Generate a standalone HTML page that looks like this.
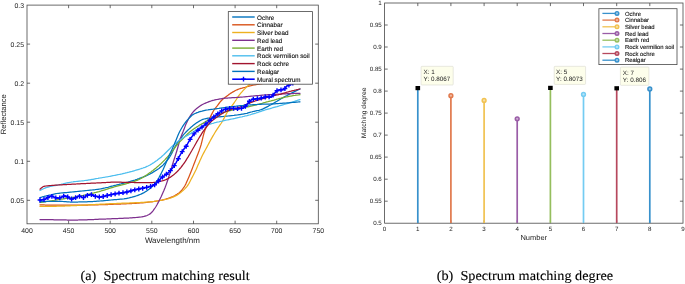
<!DOCTYPE html>
<html><head><meta charset="utf-8"><title>Spectrum matching</title>
<style>html,body{margin:0;padding:0;background:#fff;}body{width:685px;height:284px;overflow:hidden;font-family:"Liberation Sans", sans-serif;}svg{display:block;}</style>
</head><body>
<svg width="685" height="284" viewBox="0 0 685 284" font-family='"Liberation Sans", sans-serif' text-rendering="geometricPrecision">
<rect width="685" height="284" fill="#fff"/>
<g id="chartA">
<g fill="none" stroke-width="1.25" stroke-linejoin="round" stroke-linecap="round">
<path d="M40.0,197.6 L41.0,197.3 L42.0,197.0 L43.0,196.7 L44.0,196.5 L45.0,196.2 L46.0,196.0 L47.0,195.7 L48.0,195.5 L49.0,195.2 L50.0,195.0 L51.0,194.8 L52.0,194.5 L53.0,194.3 L54.0,194.1 L55.0,193.9 L56.0,193.7 L57.0,193.5 L58.0,193.4 L59.0,193.3 L60.0,193.1 L61.0,193.0 L62.0,192.9 L63.0,192.8 L64.0,192.7 L65.0,192.6 L66.0,192.5 L67.0,192.5 L68.0,192.4 L69.0,192.3 L70.0,192.2 L71.0,192.1 L72.0,192.0 L73.0,191.9 L74.0,191.8 L75.0,191.7 L76.0,191.6 L77.0,191.5 L78.0,191.4 L79.0,191.3 L80.0,191.2 L81.0,191.1 L82.0,191.0 L83.0,190.9 L84.0,190.8 L85.0,190.7 L86.0,190.6 L87.0,190.5 L88.0,190.4 L89.0,190.3 L90.0,190.2 L91.0,190.1 L92.0,190.0 L93.0,189.9 L94.0,189.8 L95.0,189.7 L96.0,189.5 L97.0,189.4 L98.0,189.3 L99.0,189.1 L100.0,189.0 L101.0,188.8 L102.0,188.6 L103.0,188.4 L104.0,188.2 L105.0,188.0 L106.0,187.7 L107.0,187.5 L108.0,187.3 L109.0,187.0 L110.0,186.7 L111.0,186.4 L112.0,186.1 L113.0,185.9 L114.0,185.6 L115.0,185.3 L116.0,185.1 L117.0,184.8 L118.0,184.6 L119.0,184.4 L120.0,184.1 L121.0,183.9 L122.0,183.6 L123.0,183.4 L124.0,183.1 L125.0,182.9 L126.0,182.6 L127.0,182.3 L128.0,182.1 L129.0,181.8 L130.0,181.5 L131.0,181.2 L132.0,180.9 L133.0,180.6 L134.0,180.3 L135.0,180.0 L136.0,179.6 L137.0,179.3 L138.0,178.9 L139.0,178.6 L140.0,178.2 L141.0,177.8 L142.0,177.4 L143.0,177.1 L144.0,176.7 L145.0,176.3 L146.0,175.9 L147.0,175.5 L148.0,175.0 L149.0,174.5 L150.0,174.0 L151.0,173.4 L152.0,172.9 L153.0,172.2 L154.0,171.6 L155.0,171.0 L156.0,170.4 L157.0,169.7 L158.0,169.1 L159.0,168.4 L160.0,167.6 L161.0,166.8 L162.0,166.0 L163.0,165.1 L164.0,164.0 L165.0,162.9 L166.0,161.7 L167.0,160.5 L168.0,159.3 L169.0,158.0 L170.0,156.5 L171.0,154.8 L172.0,152.9 L173.0,150.8 L174.0,148.7 L175.0,146.8 L176.0,145.0 L177.0,143.4 L178.0,141.9 L179.0,140.5 L180.0,139.1 L181.0,137.8 L182.0,136.5 L183.0,135.3 L184.0,134.2 L185.0,133.1 L186.0,132.0 L187.0,131.0 L188.0,130.0 L189.0,129.1 L190.0,128.2 L191.0,127.3 L192.0,126.4 L193.0,125.6 L194.0,124.8 L195.0,124.0 L196.0,123.3 L197.0,122.6 L198.0,122.0 L199.0,121.4 L200.0,120.8 L201.0,120.2 L202.0,119.7 L203.0,119.3 L204.0,119.0 L205.0,118.8 L206.0,118.6 L207.0,118.4 L208.0,118.2 L209.0,118.1 L210.0,117.9 L211.0,117.8 L212.0,117.7 L213.0,117.5 L214.0,117.4 L215.0,117.3 L216.0,117.2 L217.0,117.1 L218.0,117.0 L219.0,116.9 L220.0,116.8 L221.0,116.7 L222.0,116.6 L223.0,116.5 L224.0,116.4 L225.0,116.3 L226.0,116.2 L227.0,116.1 L228.0,116.0 L229.0,115.9 L230.0,115.8 L231.0,115.7 L232.0,115.6 L233.0,115.5 L234.0,115.4 L235.0,115.2 L236.0,115.1 L237.0,115.0 L238.0,114.8 L239.0,114.7 L240.0,114.6 L241.0,114.4 L242.0,114.2 L243.0,114.1 L244.0,113.9 L245.0,113.7 L246.0,113.5 L247.0,113.3 L248.0,112.9 L249.0,112.6 L250.0,112.3 L251.0,112.0 L252.0,111.8 L253.0,111.5 L254.0,111.3 L255.0,111.1 L256.0,110.9 L257.0,110.7 L258.0,110.5 L259.0,110.3 L260.0,110.0 L261.0,109.7 L262.0,109.3 L263.0,108.9 L264.0,108.4 L265.0,107.9 L266.0,107.4 L267.0,106.9 L268.0,106.4 L269.0,105.8 L270.0,105.3 L271.0,104.8 L272.0,104.2 L273.0,103.6 L274.0,103.0 L275.0,102.4 L276.0,101.8 L277.0,101.2 L278.0,100.6 L279.0,100.0 L280.0,99.4 L281.0,98.8 L282.0,98.3 L283.0,97.7 L284.0,97.1 L285.0,96.5 L286.0,96.0 L287.0,95.5 L288.0,94.9 L289.0,94.4 L290.0,93.9 L291.0,93.4 L292.0,92.9 L293.0,92.4 L294.0,91.9 L295.0,91.4 L296.0,90.9 L297.0,90.4 L298.0,89.9 L299.0,89.5 L300.0,89.0" stroke="#0072BD"/>
<path d="M40.0,204.8 L41.0,204.8 L42.0,204.9 L43.0,204.9 L44.0,204.9 L45.0,205.0 L46.0,205.0 L47.0,205.0 L48.0,205.1 L49.0,205.1 L50.0,205.1 L51.0,205.1 L52.0,205.1 L53.0,205.2 L54.0,205.2 L55.0,205.2 L56.0,205.2 L57.0,205.2 L58.0,205.2 L59.0,205.2 L60.0,205.2 L61.0,205.2 L62.0,205.2 L63.0,205.2 L64.0,205.2 L65.0,205.2 L66.0,205.2 L67.0,205.2 L68.0,205.2 L69.0,205.2 L70.0,205.2 L71.0,205.2 L72.0,205.2 L73.0,205.2 L74.0,205.2 L75.0,205.2 L76.0,205.2 L77.0,205.2 L78.0,205.1 L79.0,205.1 L80.0,205.1 L81.0,205.1 L82.0,205.1 L83.0,205.1 L84.0,205.0 L85.0,205.0 L86.0,205.0 L87.0,205.0 L88.0,205.0 L89.0,204.9 L90.0,204.9 L91.0,204.9 L92.0,204.9 L93.0,204.9 L94.0,204.8 L95.0,204.8 L96.0,204.8 L97.0,204.8 L98.0,204.8 L99.0,204.7 L100.0,204.7 L101.0,204.7 L102.0,204.6 L103.0,204.6 L104.0,204.6 L105.0,204.6 L106.0,204.5 L107.0,204.5 L108.0,204.5 L109.0,204.4 L110.0,204.4 L111.0,204.4 L112.0,204.3 L113.0,204.3 L114.0,204.2 L115.0,204.2 L116.0,204.2 L117.0,204.1 L118.0,204.1 L119.0,204.0 L120.0,204.0 L121.0,204.0 L122.0,203.9 L123.0,203.9 L124.0,203.8 L125.0,203.8 L126.0,203.8 L127.0,203.7 L128.0,203.7 L129.0,203.6 L130.0,203.6 L131.0,203.5 L132.0,203.5 L133.0,203.4 L134.0,203.4 L135.0,203.3 L136.0,203.3 L137.0,203.2 L138.0,203.1 L139.0,203.1 L140.0,203.0 L141.0,202.9 L142.0,202.8 L143.0,202.8 L144.0,202.7 L145.0,202.6 L146.0,202.5 L147.0,202.3 L148.0,202.2 L149.0,202.1 L150.0,202.0 L151.0,201.9 L152.0,201.8 L153.0,201.6 L154.0,201.5 L155.0,201.3 L156.0,201.2 L157.0,201.0 L158.0,200.9 L159.0,200.7 L160.0,200.5 L161.0,200.3 L162.0,200.1 L163.0,199.8 L164.0,199.6 L165.0,199.3 L166.0,199.0 L167.0,198.7 L168.0,198.4 L169.0,198.0 L170.0,197.7 L171.0,197.3 L172.0,196.9 L173.0,196.5 L174.0,196.0 L175.0,195.5 L176.0,194.9 L177.0,194.3 L178.0,193.6 L179.0,192.9 L180.0,192.0 L181.0,191.0 L182.0,189.9 L183.0,188.5 L184.0,187.1 L185.0,185.5 L186.0,183.6 L187.0,181.3 L188.0,179.0 L189.0,176.7 L190.0,174.3 L191.0,171.8 L192.0,169.2 L193.0,166.6 L194.0,164.0 L195.0,161.5 L196.0,158.9 L197.0,156.3 L198.0,153.7 L199.0,151.0 L200.0,148.1 L201.0,145.0 L202.0,141.1 L203.0,136.8 L204.0,133.0 L205.0,130.1 L206.0,127.6 L207.0,125.2 L208.0,122.8 L209.0,120.2 L210.0,117.8 L211.0,115.6 L212.0,113.6 L213.0,111.7 L214.0,110.0 L215.0,108.6 L216.0,107.3 L217.0,106.1 L218.0,104.8 L219.0,103.5 L220.0,102.2 L221.0,101.0 L222.0,100.0 L223.0,99.1 L224.0,98.3 L225.0,97.5 L226.0,96.7 L227.0,95.9 L228.0,95.2 L229.0,94.4 L230.0,93.8 L231.0,93.1 L232.0,92.5 L233.0,91.9 L234.0,91.4 L235.0,90.8 L236.0,90.3 L237.0,89.8 L238.0,89.4 L239.0,89.0 L240.0,88.7 L241.0,88.3 L242.0,88.1 L243.0,87.8 L244.0,87.5 L245.0,87.3 L246.0,87.0 L247.0,86.7 L248.0,86.5 L249.0,86.2 L250.0,85.9 L251.0,85.7 L252.0,85.4 L253.0,85.2 L254.0,85.0 L255.0,84.8 L256.0,84.7 L257.0,84.5 L258.0,84.3 L259.0,84.2 L260.0,84.0 L261.0,83.8 L262.0,83.6 L263.0,83.5 L264.0,83.3 L265.0,83.1 L266.0,82.9 L267.0,82.7 L268.0,82.6 L269.0,82.4 L270.0,82.2 L271.0,82.0 L272.0,81.8 L273.0,81.6 L274.0,81.5 L275.0,81.3 L276.0,81.1 L277.0,81.0 L278.0,80.8 L279.0,80.6 L280.0,80.5 L281.0,80.4 L282.0,80.2 L283.0,80.1 L284.0,79.9 L285.0,79.8 L286.0,79.7 L287.0,79.5 L288.0,79.4 L289.0,79.3 L290.0,79.1 L291.0,79.0 L292.0,78.9 L293.0,78.8 L294.0,78.7 L295.0,78.5 L296.0,78.4 L297.0,78.3 L298.0,78.2 L299.0,78.1 L300.0,78.0" stroke="#D95319"/>
<path d="M40.0,206.4 L41.0,206.4 L42.0,206.4 L43.0,206.4 L44.0,206.4 L45.0,206.4 L46.0,206.4 L47.0,206.4 L48.0,206.4 L49.0,206.4 L50.0,206.4 L51.0,206.4 L52.0,206.4 L53.0,206.4 L54.0,206.3 L55.0,206.3 L56.0,206.3 L57.0,206.2 L58.0,206.2 L59.0,206.2 L60.0,206.1 L61.0,206.1 L62.0,206.1 L63.0,206.0 L64.0,206.0 L65.0,206.0 L66.0,205.9 L67.0,205.9 L68.0,205.9 L69.0,205.8 L70.0,205.8 L71.0,205.7 L72.0,205.7 L73.0,205.7 L74.0,205.6 L75.0,205.6 L76.0,205.5 L77.0,205.5 L78.0,205.4 L79.0,205.4 L80.0,205.3 L81.0,205.3 L82.0,205.2 L83.0,205.2 L84.0,205.1 L85.0,205.1 L86.0,205.0 L87.0,204.9 L88.0,204.9 L89.0,204.8 L90.0,204.8 L91.0,204.7 L92.0,204.7 L93.0,204.6 L94.0,204.5 L95.0,204.5 L96.0,204.4 L97.0,204.4 L98.0,204.3 L99.0,204.3 L100.0,204.2 L101.0,204.1 L102.0,204.1 L103.0,204.1 L104.0,204.0 L105.0,204.0 L106.0,203.9 L107.0,203.9 L108.0,203.8 L109.0,203.8 L110.0,203.7 L111.0,203.7 L112.0,203.6 L113.0,203.6 L114.0,203.6 L115.0,203.5 L116.0,203.5 L117.0,203.4 L118.0,203.4 L119.0,203.3 L120.0,203.3 L121.0,203.3 L122.0,203.2 L123.0,203.2 L124.0,203.1 L125.0,203.1 L126.0,203.1 L127.0,203.0 L128.0,203.0 L129.0,203.0 L130.0,202.9 L131.0,202.9 L132.0,202.9 L133.0,202.8 L134.0,202.8 L135.0,202.7 L136.0,202.7 L137.0,202.6 L138.0,202.6 L139.0,202.6 L140.0,202.5 L141.0,202.4 L142.0,202.4 L143.0,202.3 L144.0,202.3 L145.0,202.2 L146.0,202.1 L147.0,202.1 L148.0,202.0 L149.0,201.9 L150.0,201.8 L151.0,201.7 L152.0,201.6 L153.0,201.5 L154.0,201.4 L155.0,201.2 L156.0,201.1 L157.0,201.0 L158.0,200.8 L159.0,200.7 L160.0,200.5 L161.0,200.3 L162.0,200.1 L163.0,200.0 L164.0,199.7 L165.0,199.5 L166.0,199.3 L167.0,199.0 L168.0,198.8 L169.0,198.5 L170.0,198.2 L171.0,197.9 L172.0,197.5 L173.0,197.1 L174.0,196.6 L175.0,196.2 L176.0,195.6 L177.0,195.1 L178.0,194.5 L179.0,193.8 L180.0,193.1 L181.0,192.3 L182.0,191.4 L183.0,190.5 L184.0,189.6 L185.0,188.6 L186.0,187.5 L187.0,186.3 L188.0,185.0 L189.0,183.4 L190.0,181.5 L191.0,179.5 L192.0,177.6 L193.0,175.7 L194.0,173.8 L195.0,171.8 L196.0,169.7 L197.0,167.4 L198.0,165.1 L199.0,162.9 L200.0,160.6 L201.0,158.4 L202.0,156.3 L203.0,154.3 L204.0,152.4 L205.0,150.5 L206.0,148.7 L207.0,146.9 L208.0,145.0 L209.0,143.1 L210.0,141.2 L211.0,139.4 L212.0,137.6 L213.0,135.9 L214.0,134.2 L215.0,132.5 L216.0,130.9 L217.0,129.3 L218.0,127.8 L219.0,126.3 L220.0,124.9 L221.0,123.5 L222.0,122.0 L223.0,120.3 L224.0,118.4 L225.0,116.4 L226.0,114.5 L227.0,112.6 L228.0,110.6 L229.0,109.0 L230.0,107.7 L231.0,106.7 L232.0,105.6 L233.0,104.3 L234.0,103.0 L235.0,101.5 L236.0,100.0 L237.0,98.4 L238.0,96.9 L239.0,95.4 L240.0,94.1 L241.0,92.9 L242.0,91.8 L243.0,90.7 L244.0,89.6 L245.0,88.6 L246.0,87.6 L247.0,86.6 L248.0,85.7 L249.0,84.8 L250.0,84.0 L251.0,83.2 L252.0,82.5 L253.0,81.8 L254.0,81.1 L255.0,80.5 L256.0,79.9 L257.0,79.3 L258.0,78.8 L259.0,78.3 L260.0,77.8 L261.0,77.4 L262.0,77.0 L263.0,76.7 L264.0,76.4 L265.0,76.1 L266.0,75.8 L267.0,75.5 L268.0,75.3 L269.0,75.0 L270.0,74.8 L271.0,74.6 L272.0,74.4 L273.0,74.2 L274.0,74.0 L275.0,73.8 L276.0,73.6 L277.0,73.4 L278.0,73.3 L279.0,73.1 L280.0,73.0 L281.0,72.9 L282.0,72.7 L283.0,72.6 L284.0,72.5 L285.0,72.3 L286.0,72.2 L287.0,72.1 L288.0,72.0 L289.0,71.9 L290.0,71.7 L291.0,71.6 L292.0,71.5 L293.0,71.4 L294.0,71.4 L295.0,71.3 L296.0,71.2 L297.0,71.1 L298.0,71.1 L299.0,71.0 L300.0,71.0" stroke="#EDB120"/>
<path d="M40.0,219.6 L41.0,219.6 L42.0,219.6 L43.0,219.6 L44.0,219.6 L45.0,219.6 L46.0,219.7 L47.0,219.7 L48.0,219.7 L49.0,219.7 L50.0,219.7 L51.0,219.7 L52.0,219.7 L53.0,219.7 L54.0,219.8 L55.0,219.8 L56.0,219.8 L57.0,219.8 L58.0,219.8 L59.0,219.8 L60.0,219.8 L61.0,219.8 L62.0,219.9 L63.0,219.9 L64.0,219.9 L65.0,219.9 L66.0,219.9 L67.0,220.0 L68.0,220.0 L69.0,220.0 L70.0,220.0 L71.0,220.0 L72.0,220.0 L73.0,220.0 L74.0,220.0 L75.0,220.0 L76.0,220.0 L77.0,220.0 L78.0,220.0 L79.0,219.9 L80.0,219.9 L81.0,219.9 L82.0,219.9 L83.0,219.9 L84.0,219.8 L85.0,219.8 L86.0,219.8 L87.0,219.8 L88.0,219.7 L89.0,219.7 L90.0,219.7 L91.0,219.6 L92.0,219.6 L93.0,219.5 L94.0,219.5 L95.0,219.4 L96.0,219.4 L97.0,219.3 L98.0,219.3 L99.0,219.2 L100.0,219.2 L101.0,219.2 L102.0,219.1 L103.0,219.1 L104.0,219.0 L105.0,219.0 L106.0,219.0 L107.0,218.9 L108.0,218.9 L109.0,218.9 L110.0,218.8 L111.0,218.8 L112.0,218.7 L113.0,218.7 L114.0,218.7 L115.0,218.6 L116.0,218.6 L117.0,218.5 L118.0,218.5 L119.0,218.4 L120.0,218.4 L121.0,218.4 L122.0,218.3 L123.0,218.3 L124.0,218.2 L125.0,218.2 L126.0,218.1 L127.0,218.1 L128.0,218.0 L129.0,218.0 L130.0,217.9 L131.0,217.8 L132.0,217.8 L133.0,217.7 L134.0,217.6 L135.0,217.6 L136.0,217.5 L137.0,217.4 L138.0,217.3 L139.0,217.2 L140.0,217.1 L141.0,217.0 L142.0,216.8 L143.0,216.6 L144.0,216.4 L145.0,216.1 L146.0,215.8 L147.0,215.5 L148.0,215.0 L149.0,214.5 L150.0,213.9 L151.0,213.1 L152.0,212.0 L153.0,210.8 L154.0,209.4 L155.0,208.0 L156.0,206.5 L157.0,204.8 L158.0,202.9 L159.0,201.0 L160.0,199.0 L161.0,197.0 L162.0,194.8 L163.0,192.6 L164.0,190.3 L165.0,187.8 L166.0,185.1 L167.0,182.3 L168.0,179.3 L169.0,176.1 L170.0,173.0 L171.0,169.7 L172.0,166.3 L173.0,163.0 L174.0,159.8 L175.0,156.7 L176.0,153.5 L177.0,150.2 L178.0,146.8 L179.0,143.1 L180.0,139.5 L181.0,136.7 L182.0,134.2 L183.0,131.8 L184.0,129.2 L185.0,126.6 L186.0,124.1 L187.0,121.9 L188.0,119.9 L189.0,118.0 L190.0,116.3 L191.0,114.8 L192.0,113.3 L193.0,112.1 L194.0,111.0 L195.0,110.0 L196.0,109.1 L197.0,108.3 L198.0,107.5 L199.0,106.7 L200.0,106.0 L201.0,105.4 L202.0,104.8 L203.0,104.3 L204.0,103.8 L205.0,103.3 L206.0,102.9 L207.0,102.5 L208.0,102.1 L209.0,101.7 L210.0,101.3 L211.0,101.0 L212.0,100.7 L213.0,100.4 L214.0,100.2 L215.0,99.9 L216.0,99.7 L217.0,99.5 L218.0,99.3 L219.0,99.1 L220.0,98.9 L221.0,98.8 L222.0,98.6 L223.0,98.4 L224.0,98.3 L225.0,98.2 L226.0,98.1 L227.0,98.0 L228.0,98.0 L229.0,97.9 L230.0,97.8 L231.0,97.8 L232.0,97.7 L233.0,97.7 L234.0,97.6 L235.0,97.6 L236.0,97.5 L237.0,97.4 L238.0,97.4 L239.0,97.3 L240.0,97.2 L241.0,97.1 L242.0,97.1 L243.0,97.0 L244.0,96.9 L245.0,96.8 L246.0,96.7 L247.0,96.6 L248.0,96.5 L249.0,96.4 L250.0,96.3 L251.0,96.2 L252.0,96.1 L253.0,96.0 L254.0,95.9 L255.0,95.8 L256.0,95.7 L257.0,95.6 L258.0,95.5 L259.0,95.5 L260.0,95.4 L261.0,95.3 L262.0,95.2 L263.0,95.1 L264.0,95.0 L265.0,94.9 L266.0,94.9 L267.0,94.8 L268.0,94.7 L269.0,94.7 L270.0,94.6 L271.0,94.5 L272.0,94.5 L273.0,94.4 L274.0,94.4 L275.0,94.3 L276.0,94.3 L277.0,94.2 L278.0,94.2 L279.0,94.1 L280.0,94.0 L281.0,94.0 L282.0,94.0 L283.0,93.9 L284.0,93.9 L285.0,93.8 L286.0,93.8 L287.0,93.7 L288.0,93.7 L289.0,93.6 L290.0,93.6 L291.0,93.6 L292.0,93.5 L293.0,93.5 L294.0,93.5 L295.0,93.4 L296.0,93.4 L297.0,93.4 L298.0,93.3 L299.0,93.3 L300.0,93.3" stroke="#7E2F8E"/>
<path d="M40.0,202.5 L41.0,202.4 L42.0,202.2 L43.0,202.1 L44.0,201.9 L45.0,201.8 L46.0,201.6 L47.0,201.5 L48.0,201.3 L49.0,201.2 L50.0,201.0 L51.0,200.8 L52.0,200.7 L53.0,200.5 L54.0,200.4 L55.0,200.2 L56.0,200.0 L57.0,199.9 L58.0,199.7 L59.0,199.5 L60.0,199.4 L61.0,199.2 L62.0,199.1 L63.0,199.0 L64.0,198.8 L65.0,198.7 L66.0,198.5 L67.0,198.4 L68.0,198.2 L69.0,198.1 L70.0,197.9 L71.0,197.8 L72.0,197.6 L73.0,197.4 L74.0,197.2 L75.0,197.1 L76.0,196.9 L77.0,196.7 L78.0,196.5 L79.0,196.3 L80.0,196.1 L81.0,195.9 L82.0,195.7 L83.0,195.5 L84.0,195.2 L85.0,195.0 L86.0,194.8 L87.0,194.6 L88.0,194.3 L89.0,194.1 L90.0,193.9 L91.0,193.6 L92.0,193.4 L93.0,193.1 L94.0,192.9 L95.0,192.6 L96.0,192.4 L97.0,192.1 L98.0,191.8 L99.0,191.6 L100.0,191.3 L101.0,191.0 L102.0,190.7 L103.0,190.4 L104.0,190.1 L105.0,189.8 L106.0,189.5 L107.0,189.2 L108.0,188.8 L109.0,188.5 L110.0,188.2 L111.0,187.9 L112.0,187.6 L113.0,187.3 L114.0,187.0 L115.0,186.7 L116.0,186.4 L117.0,186.2 L118.0,185.9 L119.0,185.6 L120.0,185.4 L121.0,185.1 L122.0,184.9 L123.0,184.6 L124.0,184.3 L125.0,184.1 L126.0,183.8 L127.0,183.5 L128.0,183.3 L129.0,183.0 L130.0,182.7 L131.0,182.4 L132.0,182.1 L133.0,181.8 L134.0,181.5 L135.0,181.1 L136.0,180.7 L137.0,180.3 L138.0,179.9 L139.0,179.5 L140.0,179.0 L141.0,178.5 L142.0,177.9 L143.0,177.3 L144.0,176.7 L145.0,176.0 L146.0,175.4 L147.0,174.7 L148.0,174.0 L149.0,173.3 L150.0,172.6 L151.0,171.9 L152.0,171.1 L153.0,170.4 L154.0,169.6 L155.0,168.8 L156.0,168.0 L157.0,167.1 L158.0,166.3 L159.0,165.4 L160.0,164.5 L161.0,163.6 L162.0,162.6 L163.0,161.6 L164.0,160.6 L165.0,159.6 L166.0,158.5 L167.0,157.4 L168.0,156.3 L169.0,155.2 L170.0,154.0 L171.0,152.8 L172.0,151.5 L173.0,150.2 L174.0,148.8 L175.0,147.5 L176.0,146.2 L177.0,145.0 L178.0,143.8 L179.0,142.7 L180.0,141.6 L181.0,140.6 L182.0,139.5 L183.0,138.5 L184.0,137.5 L185.0,136.5 L186.0,135.5 L187.0,134.5 L188.0,133.5 L189.0,132.6 L190.0,131.8 L191.0,131.0 L192.0,130.2 L193.0,129.5 L194.0,128.8 L195.0,128.1 L196.0,127.5 L197.0,126.8 L198.0,126.2 L199.0,125.5 L200.0,124.9 L201.0,124.4 L202.0,123.8 L203.0,123.2 L204.0,122.6 L205.0,122.0 L206.0,121.4 L207.0,120.8 L208.0,120.1 L209.0,119.5 L210.0,119.0 L211.0,118.4 L212.0,117.9 L213.0,117.4 L214.0,116.9 L215.0,116.4 L216.0,115.9 L217.0,115.5 L218.0,115.0 L219.0,114.5 L220.0,114.1 L221.0,113.6 L222.0,113.2 L223.0,112.7 L224.0,112.3 L225.0,112.0 L226.0,111.7 L227.0,111.4 L228.0,111.2 L229.0,110.9 L230.0,110.7 L231.0,110.4 L232.0,110.2 L233.0,110.0 L234.0,109.7 L235.0,109.5 L236.0,109.3 L237.0,109.0 L238.0,108.8 L239.0,108.6 L240.0,108.4 L241.0,108.2 L242.0,108.0 L243.0,107.8 L244.0,107.6 L245.0,107.4 L246.0,107.2 L247.0,107.0 L248.0,106.8 L249.0,106.6 L250.0,106.4 L251.0,106.2 L252.0,106.0 L253.0,105.7 L254.0,105.4 L255.0,105.2 L256.0,104.9 L257.0,104.6 L258.0,104.3 L259.0,104.1 L260.0,103.8 L261.0,103.5 L262.0,103.3 L263.0,103.0 L264.0,102.7 L265.0,102.5 L266.0,102.2 L267.0,101.9 L268.0,101.7 L269.0,101.4 L270.0,101.1 L271.0,100.9 L272.0,100.6 L273.0,100.3 L274.0,100.1 L275.0,99.8 L276.0,99.5 L277.0,99.2 L278.0,99.0 L279.0,98.7 L280.0,98.4 L281.0,98.2 L282.0,97.9 L283.0,97.7 L284.0,97.4 L285.0,97.2 L286.0,97.0 L287.0,96.8 L288.0,96.6 L289.0,96.4 L290.0,96.2 L291.0,96.1 L292.0,95.9 L293.0,95.7 L294.0,95.5 L295.0,95.4 L296.0,95.2 L297.0,95.1 L298.0,95.0 L299.0,94.8 L300.0,94.7" stroke="#77AC30"/>
<path d="M40.0,190.5 L41.0,190.0 L42.0,189.5 L43.0,189.0 L44.0,188.5 L45.0,188.1 L46.0,187.7 L47.0,187.4 L48.0,187.1 L49.0,186.8 L50.0,186.5 L51.0,186.3 L52.0,186.1 L53.0,185.9 L54.0,185.7 L55.0,185.6 L56.0,185.4 L57.0,185.2 L58.0,185.0 L59.0,184.8 L60.0,184.5 L61.0,184.3 L62.0,184.0 L63.0,183.8 L64.0,183.5 L65.0,183.3 L66.0,183.1 L67.0,182.9 L68.0,182.7 L69.0,182.5 L70.0,182.3 L71.0,182.2 L72.0,182.0 L73.0,181.9 L74.0,181.7 L75.0,181.6 L76.0,181.5 L77.0,181.4 L78.0,181.3 L79.0,181.2 L80.0,181.1 L81.0,181.0 L82.0,180.9 L83.0,180.8 L84.0,180.7 L85.0,180.5 L86.0,180.4 L87.0,180.3 L88.0,180.1 L89.0,179.9 L90.0,179.8 L91.0,179.6 L92.0,179.4 L93.0,179.3 L94.0,179.1 L95.0,178.9 L96.0,178.7 L97.0,178.5 L98.0,178.4 L99.0,178.2 L100.0,178.0 L101.0,177.8 L102.0,177.7 L103.0,177.5 L104.0,177.3 L105.0,177.2 L106.0,177.0 L107.0,176.8 L108.0,176.7 L109.0,176.5 L110.0,176.3 L111.0,176.1 L112.0,175.9 L113.0,175.7 L114.0,175.5 L115.0,175.3 L116.0,175.1 L117.0,174.9 L118.0,174.7 L119.0,174.5 L120.0,174.3 L121.0,174.1 L122.0,173.9 L123.0,173.6 L124.0,173.4 L125.0,173.2 L126.0,172.9 L127.0,172.7 L128.0,172.4 L129.0,172.2 L130.0,171.9 L131.0,171.6 L132.0,171.4 L133.0,171.1 L134.0,170.8 L135.0,170.5 L136.0,170.2 L137.0,169.9 L138.0,169.6 L139.0,169.3 L140.0,169.0 L141.0,168.7 L142.0,168.3 L143.0,168.0 L144.0,167.6 L145.0,167.3 L146.0,166.9 L147.0,166.4 L148.0,166.0 L149.0,165.5 L150.0,165.0 L151.0,164.4 L152.0,163.8 L153.0,163.1 L154.0,162.5 L155.0,161.8 L156.0,161.1 L157.0,160.4 L158.0,159.6 L159.0,158.8 L160.0,158.0 L161.0,157.2 L162.0,156.3 L163.0,155.4 L164.0,154.5 L165.0,153.5 L166.0,152.5 L167.0,151.5 L168.0,150.5 L169.0,149.5 L170.0,148.5 L171.0,147.4 L172.0,146.4 L173.0,145.5 L174.0,144.6 L175.0,143.7 L176.0,142.8 L177.0,142.0 L178.0,141.3 L179.0,140.5 L180.0,139.8 L181.0,139.1 L182.0,138.5 L183.0,137.9 L184.0,137.3 L185.0,136.8 L186.0,136.2 L187.0,135.6 L188.0,135.1 L189.0,134.5 L190.0,133.9 L191.0,133.3 L192.0,132.6 L193.0,132.0 L194.0,131.3 L195.0,130.7 L196.0,130.1 L197.0,129.5 L198.0,128.9 L199.0,128.4 L200.0,127.9 L201.0,127.3 L202.0,126.9 L203.0,126.4 L204.0,126.0 L205.0,125.6 L206.0,125.3 L207.0,125.0 L208.0,124.7 L209.0,124.4 L210.0,124.1 L211.0,123.8 L212.0,123.5 L213.0,123.3 L214.0,123.0 L215.0,122.7 L216.0,122.5 L217.0,122.2 L218.0,122.0 L219.0,121.8 L220.0,121.5 L221.0,121.3 L222.0,121.1 L223.0,120.8 L224.0,120.6 L225.0,120.4 L226.0,120.2 L227.0,120.0 L228.0,119.8 L229.0,119.6 L230.0,119.4 L231.0,119.2 L232.0,119.0 L233.0,118.8 L234.0,118.6 L235.0,118.4 L236.0,118.1 L237.0,117.9 L238.0,117.7 L239.0,117.5 L240.0,117.2 L241.0,117.0 L242.0,116.8 L243.0,116.5 L244.0,116.3 L245.0,116.0 L246.0,115.8 L247.0,115.6 L248.0,115.3 L249.0,115.0 L250.0,114.8 L251.0,114.5 L252.0,114.2 L253.0,113.9 L254.0,113.6 L255.0,113.3 L256.0,113.0 L257.0,112.6 L258.0,112.3 L259.0,111.9 L260.0,111.6 L261.0,111.3 L262.0,110.9 L263.0,110.6 L264.0,110.3 L265.0,110.0 L266.0,109.7 L267.0,109.4 L268.0,109.1 L269.0,108.8 L270.0,108.6 L271.0,108.3 L272.0,108.0 L273.0,107.7 L274.0,107.4 L275.0,107.1 L276.0,106.8 L277.0,106.6 L278.0,106.3 L279.0,106.0 L280.0,105.7 L281.0,105.4 L282.0,105.1 L283.0,104.8 L284.0,104.5 L285.0,104.2 L286.0,103.9 L287.0,103.6 L288.0,103.3 L289.0,103.0 L290.0,102.7 L291.0,102.4 L292.0,102.1 L293.0,101.8 L294.0,101.5 L295.0,101.2 L296.0,100.8 L297.0,100.5 L298.0,100.2 L299.0,99.9 L300.0,99.6" stroke="#4DBEEE"/>
<path d="M40.0,189.2 L41.0,188.3 L42.0,187.5 L43.0,186.8 L44.0,186.3 L45.0,186.1 L46.0,186.0 L47.0,185.9 L48.0,185.8 L49.0,185.7 L50.0,185.6 L51.0,185.5 L52.0,185.4 L53.0,185.3 L54.0,185.3 L55.0,185.2 L56.0,185.1 L57.0,185.1 L58.0,185.0 L59.0,184.9 L60.0,184.9 L61.0,184.8 L62.0,184.8 L63.0,184.7 L64.0,184.6 L65.0,184.6 L66.0,184.5 L67.0,184.5 L68.0,184.4 L69.0,184.4 L70.0,184.3 L71.0,184.3 L72.0,184.2 L73.0,184.1 L74.0,184.1 L75.0,184.0 L76.0,184.0 L77.0,183.9 L78.0,183.9 L79.0,183.8 L80.0,183.8 L81.0,183.7 L82.0,183.7 L83.0,183.6 L84.0,183.6 L85.0,183.5 L86.0,183.5 L87.0,183.4 L88.0,183.4 L89.0,183.3 L90.0,183.3 L91.0,183.2 L92.0,183.2 L93.0,183.1 L94.0,183.1 L95.0,183.0 L96.0,183.0 L97.0,182.9 L98.0,182.9 L99.0,182.8 L100.0,182.8 L101.0,182.8 L102.0,182.7 L103.0,182.6 L104.0,182.6 L105.0,182.5 L106.0,182.5 L107.0,182.4 L108.0,182.4 L109.0,182.3 L110.0,182.3 L111.0,182.2 L112.0,182.2 L113.0,182.2 L114.0,182.2 L115.0,182.2 L116.0,182.2 L117.0,182.2 L118.0,182.2 L119.0,182.2 L120.0,182.2 L121.0,182.2 L122.0,182.3 L123.0,182.3 L124.0,182.3 L125.0,182.3 L126.0,182.3 L127.0,182.3 L128.0,182.3 L129.0,182.3 L130.0,182.4 L131.0,182.4 L132.0,182.4 L133.0,182.4 L134.0,182.5 L135.0,182.5 L136.0,182.5 L137.0,182.5 L138.0,182.6 L139.0,182.6 L140.0,182.6 L141.0,182.6 L142.0,182.6 L143.0,182.6 L144.0,182.7 L145.0,182.7 L146.0,182.7 L147.0,182.7 L148.0,182.7 L149.0,182.7 L150.0,182.7 L151.0,182.6 L152.0,182.5 L153.0,182.5 L154.0,182.4 L155.0,182.3 L156.0,182.2 L157.0,182.1 L158.0,181.9 L159.0,181.7 L160.0,181.5 L161.0,181.2 L162.0,181.0 L163.0,180.7 L164.0,180.4 L165.0,180.0 L166.0,179.6 L167.0,179.1 L168.0,178.6 L169.0,178.0 L170.0,177.4 L171.0,176.7 L172.0,176.0 L173.0,175.3 L174.0,174.5 L175.0,173.6 L176.0,172.7 L177.0,171.8 L178.0,170.8 L179.0,169.7 L180.0,168.5 L181.0,167.3 L182.0,166.0 L183.0,164.7 L184.0,163.3 L185.0,161.9 L186.0,160.3 L187.0,158.7 L188.0,157.1 L189.0,155.4 L190.0,153.7 L191.0,152.0 L192.0,150.3 L193.0,148.5 L194.0,146.8 L195.0,145.0 L196.0,143.2 L197.0,141.4 L198.0,139.7 L199.0,138.0 L200.0,136.4 L201.0,134.8 L202.0,133.2 L203.0,131.7 L204.0,130.3 L205.0,128.9 L206.0,127.6 L207.0,126.3 L208.0,125.1 L209.0,123.9 L210.0,122.8 L211.0,121.8 L212.0,120.9 L213.0,120.0 L214.0,119.3 L215.0,118.5 L216.0,117.8 L217.0,117.1 L218.0,116.4 L219.0,115.7 L220.0,115.0 L221.0,114.3 L222.0,113.7 L223.0,113.1 L224.0,112.5 L225.0,112.0 L226.0,111.5 L227.0,111.1 L228.0,110.7 L229.0,110.3 L230.0,109.9 L231.0,109.5 L232.0,109.2 L233.0,108.9 L234.0,108.6 L235.0,108.4 L236.0,108.1 L237.0,107.9 L238.0,107.6 L239.0,107.3 L240.0,107.0 L241.0,106.6 L242.0,106.2 L243.0,105.8 L244.0,105.3 L245.0,104.9 L246.0,104.5 L247.0,104.1 L248.0,103.7 L249.0,103.3 L250.0,102.9 L251.0,102.5 L252.0,102.1 L253.0,101.7 L254.0,101.4 L255.0,101.0 L256.0,100.7 L257.0,100.4 L258.0,100.1 L259.0,99.8 L260.0,99.5 L261.0,99.2 L262.0,98.9 L263.0,98.6 L264.0,98.3 L265.0,98.1 L266.0,97.8 L267.0,97.5 L268.0,97.2 L269.0,97.0 L270.0,96.7 L271.0,96.5 L272.0,96.2 L273.0,96.0 L274.0,95.7 L275.0,95.5 L276.0,95.2 L277.0,95.0 L278.0,94.8 L279.0,94.5 L280.0,94.3 L281.0,94.0 L282.0,93.7 L283.0,93.4 L284.0,93.1 L285.0,92.8 L286.0,92.5 L287.0,92.2 L288.0,92.0 L289.0,91.7 L290.0,91.4 L291.0,91.2 L292.0,90.9 L293.0,90.7 L294.0,90.5 L295.0,90.2 L296.0,90.0 L297.0,89.7 L298.0,89.5 L299.0,89.2 L300.0,89.0" stroke="#A2142F"/>
<path d="M40.0,201.8 L41.0,201.7 L42.0,201.7 L43.0,201.6 L44.0,201.6 L45.0,201.5 L46.0,201.5 L47.0,201.4 L48.0,201.4 L49.0,201.4 L50.0,201.4 L51.0,201.3 L52.0,201.3 L53.0,201.3 L54.0,201.3 L55.0,201.3 L56.0,201.3 L57.0,201.3 L58.0,201.3 L59.0,201.3 L60.0,201.3 L61.0,201.4 L62.0,201.4 L63.0,201.5 L64.0,201.6 L65.0,201.6 L66.0,201.7 L67.0,201.8 L68.0,201.9 L69.0,201.9 L70.0,202.0 L71.0,202.0 L72.0,202.0 L73.0,202.0 L74.0,202.0 L75.0,202.0 L76.0,202.0 L77.0,202.0 L78.0,202.0 L79.0,201.9 L80.0,201.9 L81.0,201.9 L82.0,201.9 L83.0,201.9 L84.0,201.8 L85.0,201.8 L86.0,201.8 L87.0,201.8 L88.0,201.7 L89.0,201.7 L90.0,201.7 L91.0,201.6 L92.0,201.5 L93.0,201.5 L94.0,201.4 L95.0,201.4 L96.0,201.3 L97.0,201.2 L98.0,201.1 L99.0,201.1 L100.0,201.0 L101.0,200.9 L102.0,200.8 L103.0,200.8 L104.0,200.7 L105.0,200.6 L106.0,200.5 L107.0,200.4 L108.0,200.3 L109.0,200.2 L110.0,200.1 L111.0,200.0 L112.0,199.9 L113.0,199.8 L114.0,199.7 L115.0,199.6 L116.0,199.5 L117.0,199.5 L118.0,199.4 L119.0,199.3 L120.0,199.2 L121.0,199.1 L122.0,199.1 L123.0,199.0 L124.0,198.9 L125.0,198.7 L126.0,198.6 L127.0,198.4 L128.0,198.2 L129.0,198.0 L130.0,197.7 L131.0,197.4 L132.0,197.2 L133.0,196.9 L134.0,196.6 L135.0,196.3 L136.0,196.0 L137.0,195.7 L138.0,195.3 L139.0,194.9 L140.0,194.5 L141.0,194.1 L142.0,193.6 L143.0,193.1 L144.0,192.6 L145.0,192.0 L146.0,191.4 L147.0,190.7 L148.0,190.0 L149.0,189.3 L150.0,188.5 L151.0,187.7 L152.0,186.8 L153.0,185.9 L154.0,184.8 L155.0,183.7 L156.0,182.4 L157.0,180.9 L158.0,179.3 L159.0,177.5 L160.0,175.6 L161.0,173.7 L162.0,171.8 L163.0,169.8 L164.0,167.6 L165.0,165.3 L166.0,163.0 L167.0,160.6 L168.0,158.3 L169.0,156.0 L170.0,153.8 L171.0,151.6 L172.0,149.4 L173.0,147.2 L174.0,145.0 L175.0,142.6 L176.0,140.2 L177.0,137.7 L178.0,135.3 L179.0,133.0 L180.0,131.0 L181.0,129.2 L182.0,127.5 L183.0,125.9 L184.0,124.4 L185.0,123.0 L186.0,121.7 L187.0,120.5 L188.0,119.4 L189.0,118.2 L190.0,117.2 L191.0,116.2 L192.0,115.3 L193.0,114.6 L194.0,114.0 L195.0,113.5 L196.0,113.1 L197.0,112.6 L198.0,112.3 L199.0,111.9 L200.0,111.6 L201.0,111.3 L202.0,111.1 L203.0,110.8 L204.0,110.6 L205.0,110.4 L206.0,110.2 L207.0,110.0 L208.0,109.9 L209.0,109.7 L210.0,109.6 L211.0,109.4 L212.0,109.3 L213.0,109.2 L214.0,109.0 L215.0,108.9 L216.0,108.8 L217.0,108.6 L218.0,108.5 L219.0,108.4 L220.0,108.2 L221.0,108.1 L222.0,107.9 L223.0,107.8 L224.0,107.6 L225.0,107.5 L226.0,107.4 L227.0,107.2 L228.0,107.1 L229.0,107.0 L230.0,106.8 L231.0,106.7 L232.0,106.6 L233.0,106.5 L234.0,106.4 L235.0,106.3 L236.0,106.2 L237.0,106.0 L238.0,105.9 L239.0,105.8 L240.0,105.7 L241.0,105.6 L242.0,105.5 L243.0,105.5 L244.0,105.4 L245.0,105.3 L246.0,105.2 L247.0,105.1 L248.0,105.0 L249.0,105.0 L250.0,104.9 L251.0,104.8 L252.0,104.8 L253.0,104.7 L254.0,104.6 L255.0,104.6 L256.0,104.5 L257.0,104.5 L258.0,104.4 L259.0,104.3 L260.0,104.3 L261.0,104.3 L262.0,104.2 L263.0,104.2 L264.0,104.1 L265.0,104.1 L266.0,104.1 L267.0,104.1 L268.0,104.0 L269.0,104.0 L270.0,104.0 L271.0,103.9 L272.0,103.9 L273.0,103.8 L274.0,103.8 L275.0,103.8 L276.0,103.7 L277.0,103.6 L278.0,103.6 L279.0,103.5 L280.0,103.4 L281.0,103.4 L282.0,103.3 L283.0,103.2 L284.0,103.2 L285.0,103.1 L286.0,103.0 L287.0,102.9 L288.0,102.8 L289.0,102.8 L290.0,102.7 L291.0,102.6 L292.0,102.5 L293.0,102.4 L294.0,102.4 L295.0,102.3 L296.0,102.2 L297.0,102.1 L298.0,102.0 L299.0,101.9 L300.0,101.8" stroke="#0072BD"/>
<path d="M40.0,200.0 L40.5,200.0 L41.0,200.0 L41.5,199.9 L42.0,199.9 L42.5,199.8 L43.0,199.7 L43.5,199.6 L44.0,199.5 L44.5,199.4 L45.0,199.1 L45.5,198.9 L46.0,198.6 L46.5,198.3 L47.0,198.0 L47.5,197.7 L48.0,197.5 L48.5,197.2 L49.0,196.9 L49.5,196.6 L50.0,196.4 L50.5,196.3 L51.0,196.2 L51.5,196.2 L52.0,196.3 L52.5,196.5 L53.0,196.7 L53.5,196.9 L54.0,197.1 L54.5,197.3 L55.0,197.5 L55.5,197.7 L56.0,197.8 L56.5,198.0 L57.0,198.2 L57.5,198.3 L58.0,198.3 L58.5,198.3 L59.0,198.2 L59.5,198.0 L60.0,197.8 L60.5,197.6 L61.0,197.4 L61.5,197.2 L62.0,197.0 L62.5,196.8 L63.0,196.5 L63.5,196.3 L64.0,196.0 L64.5,195.9 L65.0,195.8 L65.5,195.9 L66.0,196.0 L66.5,196.3 L67.0,196.6 L67.5,196.9 L68.0,197.2 L68.5,197.5 L69.0,197.8 L69.5,198.0 L70.0,198.3 L70.5,198.6 L71.0,198.8 L71.5,198.9 L72.0,199.0 L72.5,199.0 L73.0,198.8 L73.5,198.7 L74.0,198.5 L74.5,198.2 L75.0,198.0 L75.5,197.7 L76.0,197.5 L76.5,197.3 L77.0,197.0 L77.5,196.7 L78.0,196.4 L78.5,196.3 L79.0,196.2 L79.5,196.3 L80.0,196.4 L80.5,196.6 L81.0,196.9 L81.5,197.2 L82.0,197.4 L82.5,197.5 L83.0,197.6 L83.5,197.5 L84.0,197.3 L84.5,197.1 L85.0,196.8 L85.5,196.4 L86.0,196.1 L86.5,195.7 L87.0,195.5 L87.5,195.3 L88.0,195.1 L88.5,194.8 L89.0,194.7 L89.5,194.5 L90.0,194.5 L90.5,194.5 L91.0,194.6 L91.5,194.8 L92.0,195.0 L92.5,195.2 L93.0,195.4 L93.5,195.7 L94.0,195.9 L94.5,196.1 L95.0,196.2 L95.5,196.3 L96.0,196.4 L96.5,196.5 L97.0,196.6 L97.5,196.7 L98.0,196.8 L98.5,196.9 L99.0,197.0 L99.5,197.0 L100.0,197.0 L100.5,197.0 L101.0,196.9 L101.5,196.9 L102.0,196.8 L102.5,196.7 L103.0,196.6 L103.5,196.4 L104.0,196.3 L104.5,196.2 L105.0,196.0 L105.5,195.9 L106.0,195.7 L106.5,195.6 L107.0,195.5 L107.5,195.4 L108.0,195.3 L108.5,195.2 L109.0,195.1 L109.5,194.9 L110.0,194.8 L110.5,194.7 L111.0,194.6 L111.5,194.5 L112.0,194.4 L112.5,194.3 L113.0,194.2 L113.5,194.1 L114.0,194.0 L114.5,193.9 L115.0,193.8 L115.5,193.8 L116.0,193.7 L116.5,193.6 L117.0,193.5 L117.5,193.5 L118.0,193.4 L118.5,193.3 L119.0,193.2 L119.5,193.2 L120.0,193.1 L120.5,193.0 L121.0,193.0 L121.5,192.9 L122.0,192.8 L122.5,192.8 L123.0,192.7 L123.5,192.6 L124.0,192.5 L124.5,192.5 L125.0,192.4 L125.5,192.3 L126.0,192.2 L126.5,192.1 L127.0,192.0 L127.5,191.9 L128.0,191.7 L128.5,191.6 L129.0,191.4 L129.5,191.3 L130.0,191.1 L130.5,191.0 L131.0,190.8 L131.5,190.7 L132.0,190.5 L132.5,190.4 L133.0,190.3 L133.5,190.1 L134.0,190.0 L134.5,189.9 L135.0,189.8 L135.5,189.7 L136.0,189.6 L136.5,189.5 L137.0,189.4 L137.5,189.3 L138.0,189.2 L138.5,189.1 L139.0,189.0 L139.5,188.9 L140.0,188.8 L140.5,188.7 L141.0,188.6 L141.5,188.5 L142.0,188.4 L142.5,188.3 L143.0,188.2 L143.5,188.1 L144.0,188.0 L144.5,187.9 L145.0,187.8 L145.5,187.7 L146.0,187.6 L146.5,187.5 L147.0,187.4 L147.5,187.3 L148.0,187.1 L148.5,187.0 L149.0,186.9 L149.5,186.7 L150.0,186.6 L150.5,186.4 L151.0,186.3 L151.5,186.1 L152.0,185.9 L152.5,185.7 L153.0,185.5 L153.5,185.3 L154.0,185.1 L154.5,184.8 L155.0,184.5 L155.5,184.1 L156.0,183.7 L156.5,183.1 L157.0,182.6 L157.5,182.0 L158.0,181.5 L158.5,181.0 L159.0,180.4 L159.5,179.9 L160.0,179.4 L160.5,178.8 L161.0,178.3 L161.5,177.8 L162.0,177.4 L162.5,177.0 L163.0,176.6 L163.5,176.3 L164.0,175.9 L164.5,175.6 L165.0,175.2 L165.5,174.9 L166.0,174.5 L166.5,174.1 L167.0,173.7 L167.5,173.3 L168.0,172.9 L168.5,172.4 L169.0,172.0 L169.5,171.5 L170.0,171.0 L170.5,170.5 L171.0,169.9 L171.5,169.3 L172.0,168.7 L172.5,168.1 L173.0,167.4 L173.5,166.7 L174.0,166.0 L174.5,165.3 L175.0,164.5 L175.5,163.6 L176.0,162.8 L176.5,161.9 L177.0,161.0 L177.5,160.1 L178.0,159.1 L178.5,158.2 L179.0,157.2 L179.5,156.2 L180.0,155.3 L180.5,154.4 L181.0,153.5 L181.5,152.7 L182.0,151.9 L182.5,151.2 L183.0,150.4 L183.5,149.7 L184.0,149.0 L184.5,148.3 L185.0,147.7 L185.5,147.1 L186.0,146.5 L186.5,145.8 L187.0,145.0 L187.5,144.0 L188.0,143.0 L188.5,142.1 L189.0,141.2 L189.5,140.4 L190.0,139.5 L190.5,138.8 L191.0,138.0 L191.5,137.3 L192.0,136.6 L192.5,135.9 L193.0,135.2 L193.5,134.6 L194.0,134.0 L194.5,133.5 L195.0,132.9 L195.5,132.5 L196.0,132.0 L196.5,131.5 L197.0,131.1 L197.5,130.7 L198.0,130.2 L198.5,129.8 L199.0,129.4 L199.5,129.0 L200.0,128.6 L200.5,128.2 L201.0,127.8 L201.5,127.4 L202.0,127.1 L202.5,126.7 L203.0,126.3 L203.5,125.9 L204.0,125.5 L204.5,125.1 L205.0,124.7 L205.5,124.2 L206.0,123.8 L206.5,123.3 L207.0,122.9 L207.5,122.4 L208.0,122.0 L208.5,121.5 L209.0,121.1 L209.5,120.6 L210.0,120.2 L210.5,119.7 L211.0,119.3 L211.5,118.9 L212.0,118.4 L212.5,118.0 L213.0,117.6 L213.5,117.2 L214.0,116.7 L214.5,116.3 L215.0,115.9 L215.5,115.5 L216.0,115.1 L216.5,114.7 L217.0,114.3 L217.5,114.0 L218.0,113.6 L218.5,113.2 L219.0,112.9 L219.5,112.5 L220.0,112.1 L220.5,111.8 L221.0,111.4 L221.5,111.0 L222.0,110.7 L222.5,110.4 L223.0,110.1 L223.5,109.8 L224.0,109.6 L224.5,109.4 L225.0,109.3 L225.5,109.2 L226.0,109.1 L226.5,109.0 L227.0,108.9 L227.5,108.8 L228.0,108.7 L228.5,108.6 L229.0,108.5 L229.5,108.5 L230.0,108.4 L230.5,108.4 L231.0,108.3 L231.5,108.3 L232.0,108.3 L232.5,108.3 L233.0,108.3 L233.5,108.4 L234.0,108.4 L234.5,108.5 L235.0,108.6 L235.5,108.6 L236.0,108.7 L236.5,108.7 L237.0,108.7 L237.5,108.7 L238.0,108.7 L238.5,108.7 L239.0,108.6 L239.5,108.6 L240.0,108.6 L240.5,108.5 L241.0,108.4 L241.5,108.4 L242.0,108.3 L242.5,108.2 L243.0,108.1 L243.5,107.9 L244.0,107.6 L244.5,107.2 L245.0,106.7 L245.5,106.3 L246.0,105.8 L246.5,105.2 L247.0,104.5 L247.5,103.7 L248.0,103.0 L248.5,102.3 L249.0,101.7 L249.5,101.2 L250.0,100.8 L250.5,100.4 L251.0,100.1 L251.5,99.8 L252.0,99.6 L252.5,99.4 L253.0,99.2 L253.5,99.1 L254.0,99.1 L254.5,99.0 L255.0,98.9 L255.5,98.9 L256.0,98.8 L256.5,98.8 L257.0,98.7 L257.5,98.7 L258.0,98.6 L258.5,98.6 L259.0,98.5 L259.5,98.4 L260.0,98.3 L260.5,98.2 L261.0,98.1 L261.5,98.0 L262.0,97.9 L262.5,97.8 L263.0,97.7 L263.5,97.6 L264.0,97.4 L264.5,97.3 L265.0,97.1 L265.5,96.9 L266.0,96.7 L266.5,96.5 L267.0,96.4 L267.5,96.4 L268.0,96.5 L268.5,96.6 L269.0,96.8 L269.5,97.0 L270.0,97.2 L270.5,97.3 L271.0,97.3 L271.5,97.0 L272.0,96.5 L272.5,95.9 L273.0,95.1 L273.5,94.4 L274.0,93.7 L274.5,93.2 L275.0,92.7 L275.5,92.2 L276.0,91.7 L276.5,91.2 L277.0,90.7 L277.5,90.3 L278.0,90.1 L278.5,89.9 L279.0,89.9 L279.5,89.8 L280.0,89.8 L280.5,89.8 L281.0,89.8 L281.5,89.7 L282.0,89.7 L282.5,89.7 L283.0,89.7 L283.5,89.6 L284.0,89.4 L284.5,89.0 L285.0,88.4 L285.5,87.7 L286.0,87.0 L286.5,86.4 L287.0,86.0 L287.5,85.7 L288.0,85.5 L288.5,85.3 L289.0,85.1 L289.5,84.9 L290.0,84.7 L290.5,84.4 L291.0,84.2 L291.5,83.9 L292.0,83.6 L292.5,83.4 L293.0,83.1 L293.5,82.8 L294.0,82.5 L294.5,82.2 L295.0,82.0 L295.5,81.8 L296.0,81.5 L296.5,81.3 L297.0,81.1 L297.5,80.9 L298.0,80.7 L298.5,80.5 L299.0,80.3 L299.5,80.2 L300.0,80.0" stroke="#0000FF" stroke-width="1.5"/>
<path d="M37.6,200.0h4.8M40.0,197.6v4.8M41.6,199.5h4.8M44.0,197.1v4.8M45.5,197.5h4.8M47.9,195.1v4.8M49.5,196.3h4.8M51.9,193.9v4.8M53.4,197.8h4.8M55.8,195.4v4.8M57.4,197.9h4.8M59.8,195.5v4.8M61.3,196.2h4.8M63.7,193.8v4.8M65.3,197.0h4.8M67.7,194.6v4.8M69.2,199.0h4.8M71.6,196.6v4.8M73.2,197.7h4.8M75.6,195.3v4.8M77.1,196.3h4.8M79.5,193.9v4.8M81.1,197.5h4.8M83.5,195.1v4.8M85.0,195.3h4.8M87.4,192.9v4.8M89.0,194.7h4.8M91.4,192.3v4.8M92.9,196.3h4.8M95.3,193.9v4.8M96.9,197.0h4.8M99.3,194.6v4.8M100.8,196.5h4.8M103.2,194.1v4.8M104.8,195.5h4.8M107.2,193.1v4.8M108.7,194.6h4.8M111.1,192.2v4.8M112.7,193.8h4.8M115.1,191.4v4.8M116.6,193.2h4.8M119.0,190.8v4.8M120.6,192.7h4.8M123.0,190.3v4.8M124.5,192.0h4.8M126.9,189.6v4.8M128.5,190.9h4.8M130.9,188.5v4.8M132.4,189.8h4.8M134.8,187.4v4.8M136.4,189.0h4.8M138.8,186.6v4.8M140.3,188.3h4.8M142.7,185.9v4.8M144.3,187.4h4.8M146.7,185.0v4.8M148.2,186.4h4.8M150.6,184.0v4.8M152.2,184.8h4.8M154.6,182.4v4.8M156.1,181.0h4.8M158.5,178.6v4.8M160.1,177.0h4.8M162.5,174.6v4.8M164.0,174.2h4.8M166.4,171.8v4.8M168.0,170.6h4.8M170.4,168.2v4.8M171.9,165.6h4.8M174.3,163.2v4.8M175.9,158.7h4.8M178.3,156.3v4.8M179.8,151.6h4.8M182.2,149.2v4.8M183.8,146.3h4.8M186.2,143.9v4.8M187.7,139.4h4.8M190.1,137.0v4.8M191.7,133.9h4.8M194.1,131.5v4.8M195.6,130.2h4.8M198.0,127.8v4.8M199.6,127.1h4.8M202.0,124.7v4.8M203.5,123.9h4.8M205.9,121.5v4.8M207.5,120.3h4.8M209.9,117.9v4.8M211.4,116.9h4.8M213.8,114.5v4.8M215.4,113.8h4.8M217.8,111.4v4.8M219.3,110.9h4.8M221.7,108.5v4.8M223.3,109.2h4.8M225.7,106.8v4.8M227.2,108.4h4.8M229.6,106.0v4.8M231.2,108.4h4.8M233.6,106.0v4.8M235.1,108.7h4.8M237.5,106.3v4.8M239.1,108.4h4.8M241.5,106.0v4.8M243.0,106.4h4.8M245.4,104.0v4.8M247.0,101.3h4.8M249.4,98.9v4.8M250.9,99.2h4.8M253.3,96.8v4.8M254.9,98.7h4.8M257.3,96.3v4.8M258.8,98.1h4.8M261.2,95.7v4.8M262.8,97.0h4.8M265.2,94.6v4.8M266.7,96.9h4.8M269.1,94.5v4.8M270.7,95.1h4.8M273.1,92.7v4.8M274.6,90.7h4.8M277.0,88.3v4.8M278.6,89.8h4.8M281.0,87.4v4.8M282.5,88.5h4.8M284.9,86.1v4.8M286.5,85.1h4.8M288.9,82.7v4.8M290.4,83.2h4.8M292.8,80.8v4.8M294.4,81.2h4.8M296.8,78.8v4.8" stroke="#0000FF" stroke-width="1.4" stroke-linecap="butt"/>
</g>
<g stroke="#484848" stroke-width="0.8" fill="none">
<rect x="27.0" y="5.1" width="291.3" height="218.70000000000002"/>
<path d="M68.6,223.8v-3.1M68.6,5.1v3.1M110.2,223.8v-3.1M110.2,5.1v3.1M151.8,223.8v-3.1M151.8,5.1v3.1M193.5,223.8v-3.1M193.5,5.1v3.1M235.1,223.8v-3.1M235.1,5.1v3.1M276.7,223.8v-3.1M276.7,5.1v3.1M27.0,44.1h3.1M318.3,44.1h-3.1M27.0,83.2h3.1M318.3,83.2h-3.1M27.0,122.2h3.1M318.3,122.2h-3.1M27.0,161.3h3.1M318.3,161.3h-3.1M27.0,200.3h3.1M318.3,200.3h-3.1"/>
</g>
<g fill="#222222" font-size="6.9">
<text x="27.0" y="233.2" text-anchor="middle">400</text>
<text x="68.6" y="233.2" text-anchor="middle">450</text>
<text x="110.2" y="233.2" text-anchor="middle">500</text>
<text x="151.8" y="233.2" text-anchor="middle">550</text>
<text x="193.5" y="233.2" text-anchor="middle">600</text>
<text x="235.1" y="233.2" text-anchor="middle">650</text>
<text x="276.7" y="233.2" text-anchor="middle">700</text>
<text x="318.3" y="233.2" text-anchor="middle">750</text>
<text x="24" y="7.5" text-anchor="end">0.3</text>
<text x="24" y="46.5" text-anchor="end">0.25</text>
<text x="24" y="85.6" text-anchor="end">0.2</text>
<text x="24" y="124.6" text-anchor="end">0.15</text>
<text x="24" y="163.7" text-anchor="end">0.1</text>
<text x="24" y="202.8" text-anchor="end">0.05</text>
</g>
<text x="172.4" y="242.7" font-size="7.9" fill="#222222" text-anchor="middle" textLength="55" lengthAdjust="spacingAndGlyphs">Wavelength/nm</text>
<text transform="translate(6.3,114.3) rotate(-90)" font-size="7.6" fill="#222222" text-anchor="middle" textLength="40" lengthAdjust="spacingAndGlyphs">Reflectance</text>
<rect x="228.3" y="11.6" width="84.09999999999997" height="72.60000000000001" fill="#fff" stroke="#484848" stroke-width="0.8"/>
<path d="M232.2,17.0H254.7" stroke="#0072BD" stroke-width="1.4" fill="none"/>
 <text x="257.1" y="19.6" font-size="6.3" fill="#111" stroke="#111" stroke-width="0.12">Ochre</text>
<path d="M232.2,24.8H254.7" stroke="#D95319" stroke-width="1.4" fill="none"/>
 <text x="257.1" y="27.4" font-size="6.3" fill="#111" stroke="#111" stroke-width="0.12">Cinnabar</text>
<path d="M232.2,32.5H254.7" stroke="#EDB120" stroke-width="1.4" fill="none"/>
 <text x="257.1" y="35.1" font-size="6.3" fill="#111" stroke="#111" stroke-width="0.12">Silver bead</text>
<path d="M232.2,40.3H254.7" stroke="#7E2F8E" stroke-width="1.4" fill="none"/>
 <text x="257.1" y="42.9" font-size="6.3" fill="#111" stroke="#111" stroke-width="0.12">Red lead</text>
<path d="M232.2,48.1H254.7" stroke="#77AC30" stroke-width="1.4" fill="none"/>
 <text x="257.1" y="50.7" font-size="6.3" fill="#111" stroke="#111" stroke-width="0.12">Earth red</text>
<path d="M232.2,55.8H254.7" stroke="#4DBEEE" stroke-width="1.4" fill="none"/>
 <text x="257.1" y="58.4" font-size="6.3" fill="#111" stroke="#111" stroke-width="0.12">Rock vermilion soil</text>
<path d="M232.2,63.6H254.7" stroke="#A2142F" stroke-width="1.4" fill="none"/>
 <text x="257.1" y="66.2" font-size="6.3" fill="#111" stroke="#111" stroke-width="0.12">Rock ochre</text>
<path d="M232.2,71.4H254.7" stroke="#0072BD" stroke-width="1.4" fill="none"/>
 <text x="257.1" y="74.0" font-size="6.3" fill="#111" stroke="#111" stroke-width="0.12">Realgar</text>
<path d="M232.2,79.2H254.7" stroke="#0000FF" stroke-width="1.6" fill="none"/>
<path d="M241.1,79.2h4.8M243.5,76.8v4.8" stroke="#0000FF" stroke-width="1.4" fill="none"/>
 <text x="257.1" y="81.8" font-size="6.3" fill="#111" stroke="#111" stroke-width="0.12">Mural spectrum</text>
</g>
<text x="80.5" y="279.9" font-family='"Liberation Serif", serif' font-size="13.6" fill="#000" stroke="#000" stroke-width="0.1" textLength="169.3" lengthAdjust="spacingAndGlyphs" xml:space="preserve">(a)  Spectrum matching result</text>
<g id="chartB">
<g stroke="#484848" stroke-width="0.8" fill="none">
<rect x="384.6" y="3.0" width="298.4" height="220.2"/>
<path d="M417.8,223.2v-3.1M417.8,3.0v3.1M450.9,223.2v-3.1M450.9,3.0v3.1M484.1,223.2v-3.1M484.1,3.0v3.1M517.2,223.2v-3.1M517.2,3.0v3.1M550.4,223.2v-3.1M550.4,3.0v3.1M583.5,223.2v-3.1M583.5,3.0v3.1M616.7,223.2v-3.1M616.7,3.0v3.1M649.8,223.2v-3.1M649.8,3.0v3.1M384.6,25.0h3.1M683.0,25.0h-3.1M384.6,47.0h3.1M683.0,47.0h-3.1M384.6,69.1h3.1M683.0,69.1h-3.1M384.6,91.1h3.1M683.0,91.1h-3.1M384.6,113.1h3.1M683.0,113.1h-3.1M384.6,135.1h3.1M683.0,135.1h-3.1M384.6,157.1h3.1M683.0,157.1h-3.1M384.6,179.2h3.1M683.0,179.2h-3.1M384.6,201.2h3.1M683.0,201.2h-3.1"/>
</g>
<g fill="none" stroke-width="1.7">
<path d="M417.8,222.89999999999998V88.1" stroke="#3891CC"/>
<path d="M450.9,222.89999999999998V97.7" stroke="#E1794C"/>
<circle cx="450.9" cy="95.7" r="1.9" stroke="#E1794C" stroke-width="1.5" fill="#F0BAA3"/>
<path d="M484.1,222.89999999999998V102.4" stroke="#F1C251"/>
<circle cx="484.1" cy="100.4" r="1.9" stroke="#F1C251" stroke-width="1.5" fill="#F8E0A6"/>
<path d="M517.2,222.89999999999998V120.8" stroke="#9A5DA7"/>
<circle cx="517.2" cy="118.8" r="1.9" stroke="#9A5DA7" stroke-width="1.5" fill="#CBACD2"/>
<path d="M550.4,222.89999999999998V87.9" stroke="#95BE5E"/>
<path d="M583.5,222.89999999999998V96.4" stroke="#74CCF2"/>
<circle cx="583.5" cy="94.4" r="1.9" stroke="#74CCF2" stroke-width="1.5" fill="#B8E5F8"/>
<path d="M616.7,222.89999999999998V88.3" stroke="#B6485D"/>
<path d="M649.8,222.89999999999998V91.0" stroke="#3891CC"/>
<circle cx="649.8" cy="89.0" r="1.9" stroke="#3891CC" stroke-width="1.5" fill="#99C7E5"/>
</g>
<g fill="#222222" font-size="6.2">
<text x="384.6" y="231.4" text-anchor="middle">0</text>
<text x="417.8" y="231.4" text-anchor="middle">1</text>
<text x="450.9" y="231.4" text-anchor="middle">2</text>
<text x="484.1" y="231.4" text-anchor="middle">3</text>
<text x="517.2" y="231.4" text-anchor="middle">4</text>
<text x="550.4" y="231.4" text-anchor="middle">5</text>
<text x="583.5" y="231.4" text-anchor="middle">6</text>
<text x="616.7" y="231.4" text-anchor="middle">7</text>
<text x="649.8" y="231.4" text-anchor="middle">8</text>
<text x="683.0" y="231.4" text-anchor="middle">9</text>
<text x="381.8" y="5.1" text-anchor="end">1</text>
<text x="381.8" y="27.1" text-anchor="end">0.95</text>
<text x="381.8" y="49.1" text-anchor="end">0.9</text>
<text x="381.8" y="71.2" text-anchor="end">0.85</text>
<text x="381.8" y="93.2" text-anchor="end">0.8</text>
<text x="381.8" y="115.2" text-anchor="end">0.75</text>
<text x="381.8" y="137.2" text-anchor="end">0.7</text>
<text x="381.8" y="159.2" text-anchor="end">0.65</text>
<text x="381.8" y="181.3" text-anchor="end">0.6</text>
<text x="381.8" y="203.3" text-anchor="end">0.55</text>
<text x="381.8" y="225.3" text-anchor="end">0.5</text>
</g>
<text x="533.8" y="240.1" font-size="7.2" fill="#222222" text-anchor="middle" textLength="26.7" lengthAdjust="spacingAndGlyphs">Number</text>
<text transform="translate(366,112.8) rotate(-90)" font-size="6.6" fill="#222222" text-anchor="middle" textLength="50.7" lengthAdjust="spacingAndGlyphs">Matching degree</text>
<rect x="598.9" y="8.7" width="78.10000000000002" height="55.89999999999999" fill="#fff" stroke="#484848" stroke-width="0.8"/>
<path d="M602.4,13.4H615.2" stroke="#3891CC" stroke-width="1.3" fill="none"/>
<circle cx="617" cy="13.4" r="1.8" stroke="#3891CC" stroke-width="1.4" fill="#99C7E5"/>
<text x="625" y="15.5" font-size="5.9" fill="#111" stroke="#111" stroke-width="0.12">Ochre</text>
<path d="M602.4,20.1H615.2" stroke="#E1794C" stroke-width="1.3" fill="none"/>
<circle cx="617" cy="20.1" r="1.8" stroke="#E1794C" stroke-width="1.4" fill="#F0BAA3"/>
<text x="625" y="22.2" font-size="5.9" fill="#111" stroke="#111" stroke-width="0.12">Cinnabar</text>
<path d="M602.4,26.8H615.2" stroke="#F1C251" stroke-width="1.3" fill="none"/>
<circle cx="617" cy="26.8" r="1.8" stroke="#F1C251" stroke-width="1.4" fill="#F8E0A6"/>
<text x="625" y="28.9" font-size="5.9" fill="#111" stroke="#111" stroke-width="0.12">Silver bead</text>
<path d="M602.4,33.5H615.2" stroke="#9A5DA7" stroke-width="1.3" fill="none"/>
<circle cx="617" cy="33.5" r="1.8" stroke="#9A5DA7" stroke-width="1.4" fill="#CBACD2"/>
<text x="625" y="35.6" font-size="5.9" fill="#111" stroke="#111" stroke-width="0.12">Red lead</text>
<path d="M602.4,40.2H615.2" stroke="#95BE5E" stroke-width="1.3" fill="none"/>
<circle cx="617" cy="40.2" r="1.8" stroke="#95BE5E" stroke-width="1.4" fill="#C9DEAC"/>
<text x="625" y="42.3" font-size="5.9" fill="#111" stroke="#111" stroke-width="0.12">Earth red</text>
<path d="M602.4,46.9H615.2" stroke="#74CCF2" stroke-width="1.3" fill="none"/>
<circle cx="617" cy="46.9" r="1.8" stroke="#74CCF2" stroke-width="1.4" fill="#B8E5F8"/>
<text x="625" y="49.0" font-size="5.9" fill="#111" stroke="#111" stroke-width="0.12">Rock vermilion soil</text>
<path d="M602.4,53.5H615.2" stroke="#B6485D" stroke-width="1.3" fill="none"/>
<circle cx="617" cy="53.5" r="1.8" stroke="#B6485D" stroke-width="1.4" fill="#DAA1AC"/>
<text x="625" y="55.6" font-size="5.9" fill="#111" stroke="#111" stroke-width="0.12">Rock ochre</text>
<path d="M602.4,60.2H615.2" stroke="#3891CC" stroke-width="1.3" fill="none"/>
<circle cx="617" cy="60.2" r="1.8" stroke="#3891CC" stroke-width="1.4" fill="#99C7E5"/>
<text x="625" y="62.3" font-size="5.9" fill="#111" stroke="#111" stroke-width="0.12">Realgar</text>
<rect x="421.1" y="66.3" width="32.1" height="18.7" rx="0.8" fill="#FDFEEB" stroke="#d9d9d0" stroke-width="0.6"/>
 <text x="423.6" y="73.8" font-size="6.3" fill="#1a1a1a">X: 1</text>
 <text x="423.6" y="81.3" font-size="6.3" fill="#1a1a1a">Y: 0.8067</text>
<rect x="415.5" y="86.0" width="4.6" height="4.2" fill="#000"/>
<rect x="554.2" y="66.3" width="31.4" height="18.1" rx="0.8" fill="#FDFEEB" stroke="#d9d9d0" stroke-width="0.6"/>
 <text x="556.1" y="73.8" font-size="6.3" fill="#1a1a1a">X: 5</text>
 <text x="556.1" y="81.3" font-size="6.3" fill="#1a1a1a">Y: 0.8073</text>
<rect x="548.1" y="85.8" width="4.6" height="4.2" fill="#000"/>
<rect x="620.4" y="67.0" width="28.5" height="18.3" rx="0.8" fill="#FDFEEB" stroke="#d9d9d0" stroke-width="0.6"/>
 <text x="622.8" y="74.5" font-size="6.3" fill="#1a1a1a">X: 7</text>
 <text x="622.8" y="82.0" font-size="6.3" fill="#1a1a1a">Y: 0.806</text>
<rect x="614.4" y="86.2" width="4.6" height="4.2" fill="#000"/>
</g>
<text x="436.7" y="279.9" font-family='"Liberation Serif", serif' font-size="13.6" fill="#000" stroke="#000" stroke-width="0.1" textLength="176.4" lengthAdjust="spacingAndGlyphs" xml:space="preserve">(b)  Spectrum matching degree</text>
</svg>
</body></html>
